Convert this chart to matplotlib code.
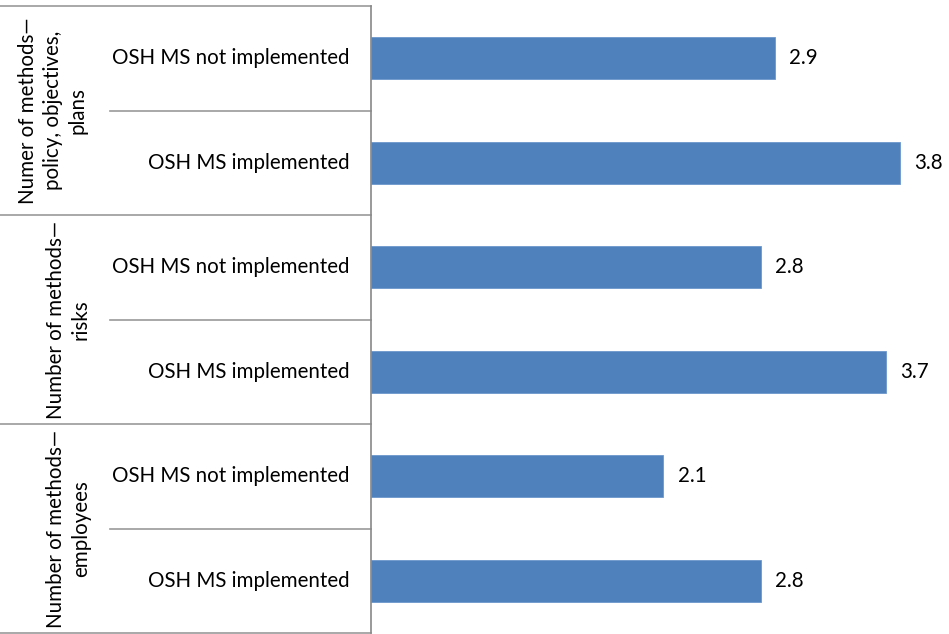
import matplotlib
matplotlib.use("Agg")
import matplotlib.pyplot as plt
from matplotlib.transforms import blended_transform_factory

plt.rcParams["font.family"] = ["Lato", "DejaVu Sans"]

# ── Données ──────────────────────────────────────────────────────────────
groups = ["Numer of methods—\npolicy, objectives,\nplans",
          "Number of methods—\nrisks",
          "Number of methods—\nemployees"]
subcats = ["OSH MS not implemented", "OSH MS implemented"] * 3
values = [2.9, 3.8, 2.8, 3.7, 2.1, 2.8]

W, H = 949, 634
FS = 14.8
fig = plt.figure(figsize=(W / 100, H / 100), dpi=100)
ax = fig.add_axes([371 / W, 1 / H, (W - 371) / W, 627 / H])

ypos = list(range(len(values)))
ax.barh(ypos, values, height=0.4, color="#4F81BD", edgecolor="#6C97CC", lw=0.6)
for y, v in zip(ypos, values):
    ax.text(v + 0.105, y, f"{v:.1f}", va="center", ha="left", fontsize=FS)

ax.set_xlim(0, (W - 371) / 139.2)
ax.set_ylim(len(values) - 0.5, -0.5)
ax.set_xticks([])
ax.set_yticks([])
for s in ["top", "right", "bottom"]:
    ax.spines[s].set_visible(False)
ax.spines["left"].set_color("#888888")
ax.spines["left"].set_linewidth(1.2)

# ── Étiquettes hiérarchiques ─────────────────────────────────────────────
tr = blended_transform_factory(fig.transFigure, ax.transData)
gray = "#999999"
for y, lab in zip(ypos, subcats):
    ax.text(350 / W, y, lab, transform=tr, ha="right", va="center", fontsize=FS)

# separators
for k in range(len(values) + 1):
    yb = k - 0.5
    x0 = 0 if k % 2 == 0 else 110 / W
    ax.plot([x0, 371 / W], [yb, yb], color=gray, lw=1.2, transform=tr, clip_on=False)

for g, lab in enumerate(groups):
    xr = 88 if g == 0 else 91
    ax.text(xr / W, 2 * g + 0.5, lab, transform=tr, rotation=90, ha="right",
            va="center", multialignment="center", fontsize=FS, linespacing=1.3)

plt.savefig("out.png", dpi=100)
